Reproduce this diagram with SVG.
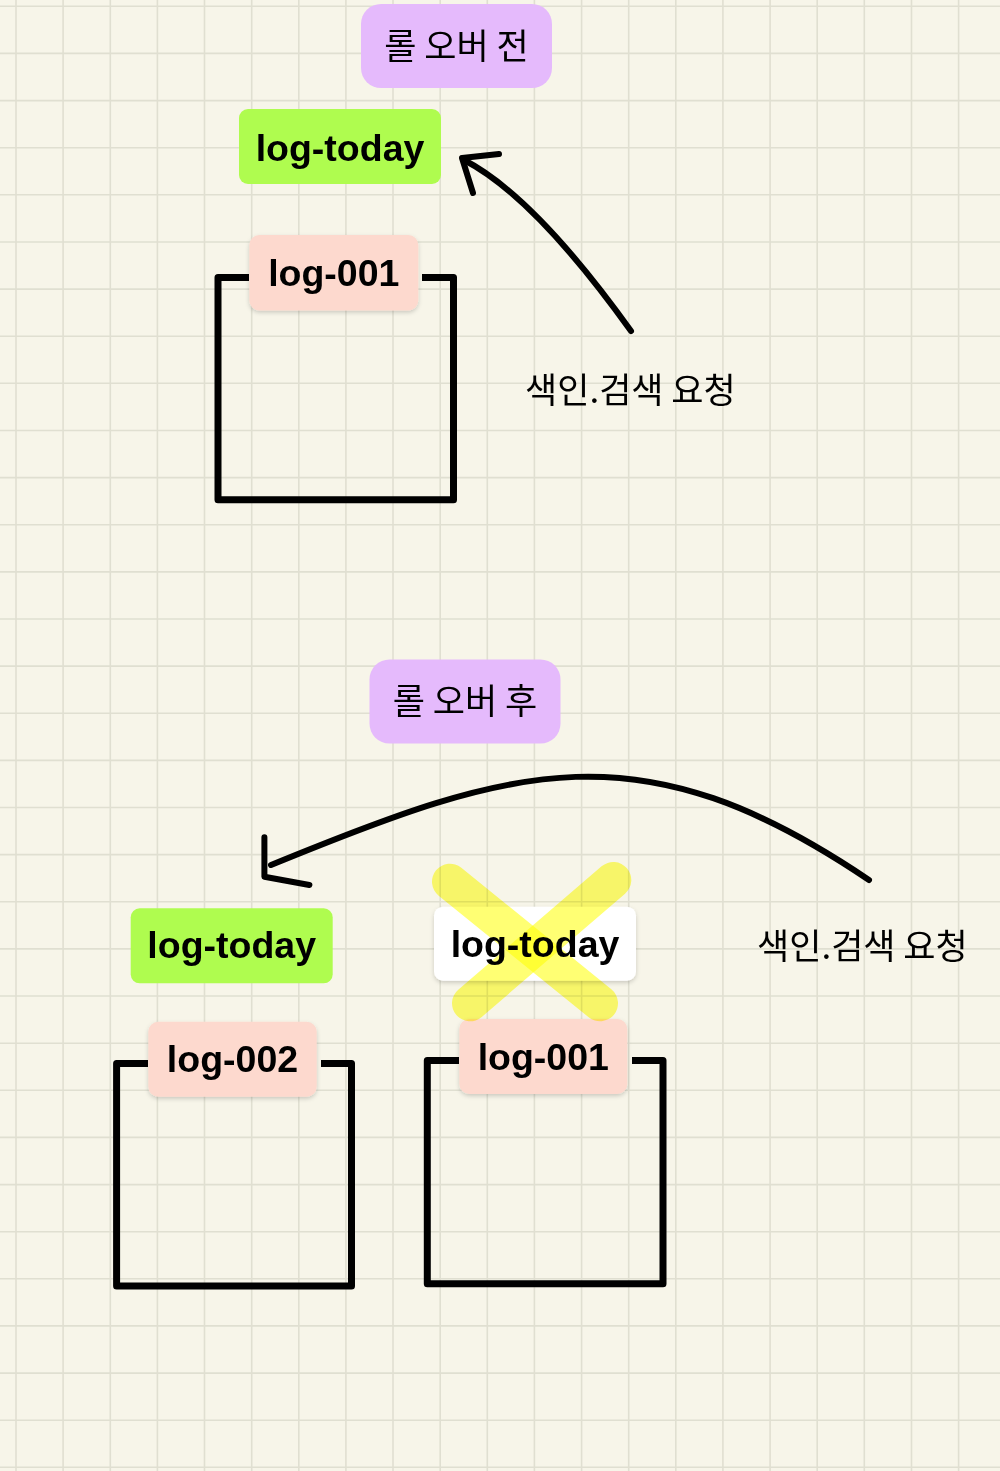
<svg xmlns="http://www.w3.org/2000/svg" width="1000" height="1471" viewBox="0 0 1000 1471">
  <style>
    .grid { stroke: #e0dfd1; stroke-width: 1.6; fill: none; }
    .line { stroke: #000; stroke-width: 6; fill: none; stroke-linecap: round; stroke-linejoin: round; }
    .box { stroke: #000; stroke-width: 7; fill: none; stroke-linejoin: round; stroke-linecap: butt; }
    .label { font-family: "Liberation Sans", Arial, sans-serif; font-weight: bold; font-size: 37.5px; fill: #000; text-anchor: middle; }
    .ko { font-family: "Noto Sans CJK KR", "Noto Sans", sans-serif; font-size: 35px; fill: #000; }
    .koc { font-family: "Noto Sans CJK KR", "Noto Sans", sans-serif; font-size: 35px; fill: #000; text-anchor: middle; }
    .green { fill: #affc4f; }
    .pink { fill: #fdd9ce; }
    .purple { fill: #e5bafc; }
    .white { fill: #ffffff; }
    .cross { stroke: #ffff00; stroke-width: 36; stroke-linecap: round; fill: none; opacity: 0.55; mix-blend-mode: multiply; }
  </style>
  <defs>
    <filter id="shadow" x="-10%" y="-20%" width="120%" height="150%">
      <feDropShadow dx="0" dy="2" stdDeviation="2" flood-color="#000" flood-opacity="0.18"/>
    </filter>
  </defs>

  <rect x="0" y="0" width="1000" height="1471" fill="#f7f5e9"/>
  <path class="grid" d="M16,0V1471M63.1,0V1471M110.3,0V1471M157.4,0V1471M204.5,0V1471M251.7,0V1471M298.8,0V1471M345.9,0V1471M393,0V1471M440.2,0V1471M487.3,0V1471M534.4,0V1471M581.6,0V1471M628.7,0V1471M675.8,0V1471M722.9,0V1471M770.1,0V1471M817.2,0V1471M864.3,0V1471M911.5,0V1471M958.6,0V1471
M0,6.3H1000M0,53.4H1000M0,100.6H1000M0,147.7H1000M0,194.8H1000M0,242H1000M0,289.1H1000M0,336.2H1000M0,383.3H1000M0,430.5H1000M0,477.6H1000M0,524.7H1000M0,571.9H1000M0,619H1000M0,666.1H1000M0,713.3H1000M0,760.4H1000M0,807.5H1000M0,854.6H1000M0,901.8H1000M0,948.9H1000M0,996H1000M0,1043.2H1000M0,1090.3H1000M0,1137.4H1000M0,1184.6H1000M0,1231.7H1000M0,1278.8H1000M0,1325.9H1000M0,1373.1H1000M0,1420.2H1000M0,1467.3H1000"/>

  <!-- containers (index boxes) -->
  <g id="box-top">
    <path class="box" d="M249,277.5H218V499.7H453.5V277.5H422"/>
  </g>
  <g id="box-002">
    <path class="box" d="M148,1063.5H116.6V1286H351.5V1063.5H321"/>
  </g>
  <g id="box-001-after">
    <path class="box" d="M459,1060.5H427.3V1283.7H663V1060.5H632"/>
  </g>

  <!-- connectors -->
  <g id="connectors">
    <path class="line" d="M631,331Q534,196 464,160"/>
    <path class="line" d="M499,154L462,158L473,193"/>
    <path class="line" d="M869,880C640,725 515,765 271,865"/>
    <path class="line" d="M264.4,837.3L264.4,876.7L309.4,885"/>
  </g>

  <g id="title-before">
    <rect class="purple" x="361" y="4" width="191" height="84" rx="20"/>
    <text class="koc" x="456.5" y="59">롤 오버 전</text>
  </g>
  <g id="log-today-before">
    <rect class="green" x="239" y="109" width="202" height="75" rx="9"/>
    <text class="label" x="340" y="161">log-today</text>
  </g>
  <g id="log-001-before">
    <rect class="pink" x="249.3" y="235" width="169" height="75.5" rx="10" filter="url(#shadow)"/>
    <text class="label" x="333.8" y="286">log-001</text>
  </g>
  <g id="request-before">
    <text class="ko" x="525" y="403">색인.검색 요청</text>
  </g>

  <g id="title-after">
    <rect class="purple" x="369.5" y="659.5" width="191" height="84" rx="20"/>
    <text class="koc" x="465" y="714">롤 오버 후</text>
  </g>
  <g id="log-today-after">
    <rect class="green" x="130.7" y="908.3" width="202" height="75" rx="9"/>
    <text class="label" x="231.7" y="958.3">log-today</text>
  </g>
  <g id="log-002">
    <rect class="pink" x="148.3" y="1021.7" width="168.4" height="75" rx="10" filter="url(#shadow)"/>
    <text class="label" x="232.5" y="1071.7">log-002</text>
  </g>
  <g id="log-001-after">
    <rect class="pink" x="459.3" y="1019" width="168" height="75" rx="10" filter="url(#shadow)"/>
    <text class="label" x="543.3" y="1070">log-001</text>
  </g>
  <g id="log-today-old">
    <rect class="white" x="434" y="906.7" width="202" height="74" rx="9" filter="url(#shadow)"/>
    <text class="label" x="535" y="957.3">log-today</text>
  </g>
  <g id="cross-mark">
    <path class="cross" d="M450,881.7L600,1003.3"/>
    <path class="cross" d="M613.3,880L470,1003.3"/>
  </g>
  <g id="request-after">
    <text class="ko" x="757" y="959">색인.검색 요청</text>
  </g>
</svg>
